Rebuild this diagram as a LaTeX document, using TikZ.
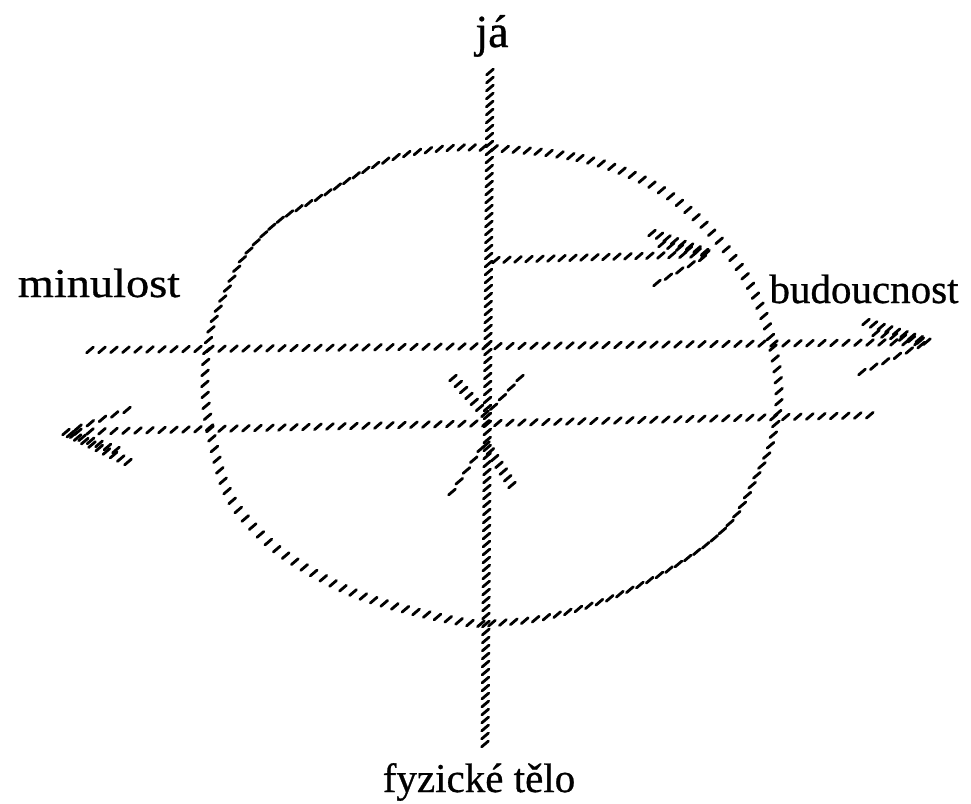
\documentclass[tikz,border=0pt]{standalone}
\usepackage{fontspec}
\setmainfont{Liberation Serif}
\newfontfamily\lblfont{Liberation Serif}[FakeBold=0.7]
\usetikzlibrary{decorations.markings}
\tikzset{
  hs/.style={line width=2.8pt, line cap=round},
  hatch/.style={decorate, decoration={markings,
     mark=between positions 0 and 1 step #1 with {\pgftransformresetnontranslations
       \draw[hs] (-3.4,2.9)--(3.4,-2.9);}}},
  lbl/.style={font=\lblfont\fontsize{41}{49}\selectfont, anchor=base, inner sep=0pt},
}
\begin{document}
\begin{tikzpicture}[x=1pt, y=-1pt]
\useasboundingbox (0,0) rectangle (971,803);
% labels
\node[lbl] (ja) at (492,47) {\fontsize{46}{52}\selectfont já};
\node[lbl] (minulost) at (99,297) {\scalebox{1.13}[1]{minulost}};
\node[lbl] (budoucnost) at (864,303) {budoucnost};
\node[lbl] (telo) at (479,792) {fyzické tělo};
% end points
\coordinate (vtop) at (490,72);
\coordinate (vbot) at (485,745);
\coordinate (h1a) at (90,350);
\coordinate (h1b) at (928,342);
\coordinate (h2a) at (66,432);
\coordinate (h2b) at (880,415);
\coordinate (sa) at (496,260);
\coordinate (sb) at (710,254);
\coordinate (a1u) at (866,322);
\coordinate (a1u2) at (876,333);
\coordinate (a1d) at (862,372);
\coordinate (a2u) at (127,410);
\coordinate (a2d) at (128,462);
\coordinate (a2d2) at (116,450);
\coordinate (a3u) at (652,233);
\coordinate (a3u2) at (662,244);
\coordinate (a3d) at (657,283);
\coordinate (dtip) at (486,415);
\coordinate (dl) at (453,378);
\coordinate (dr) at (520,378);
\coordinate (utip) at (485,443);
\coordinate (ul) at (452,492);
\coordinate (ur) at (512,485);
% circle
\path[hatch=11pt] plot[smooth cycle, tension=0.6] coordinates {
 (490,148) (580,158) (647,182) (697,218) (740,268) (767,325) (779,390)
 (772,440) (757,475) (730,523) (680,563) (613,597) (547,617) (495,623)
 (463,622) (397,607) (347,590) (297,563) (263,537) (230,497) (213,443)
 (205,390) (210,333) (230,283) (247,253) (280,220) (320,197) (380,163) (430,150)};
% main lines
\path[hatch=8pt] (vtop) -- (vbot);
\path[hatch=12pt] (h1a) -- (h1b);
\path[hatch=12pt] (h2a) -- (h2b);
\path[hatch=11pt] (sa) -- (sb);
% arrow heads
\path[hatch=8pt] (a1u) -- (h1b);
\path[hatch=9pt] (a1u2) -- (h1b);
\path[hatch=13pt] (a1d) -- (h1b);
\path[hatch=13pt] (a2u) -- (h2a);
\path[hatch=8pt] (a2d) -- (h2a);
\path[hatch=9pt] (a2d2) -- (h2a);
\path[hatch=8pt] (a3u) -- (sb);
\path[hatch=9pt] (a3u2) -- (sb);
\path[hatch=13pt] (a3d) -- (sb);
\path[hatch=8pt] (dl) -- (dtip);
\path[hatch=13pt] (dr) -- (dtip);
\path[hatch=13pt] (ul) -- (utip);
\path[hatch=8pt] (ur) -- (utip);
\end{tikzpicture}
\end{document}
